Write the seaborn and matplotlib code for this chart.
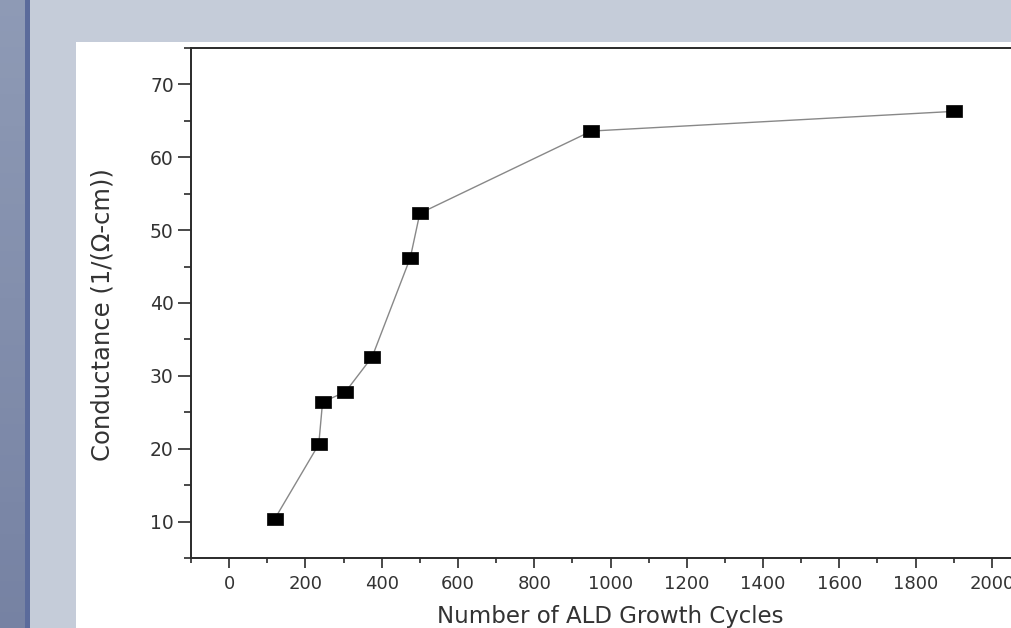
import numpy as np
import pandas as pd
import matplotlib
matplotlib.use("Agg")
import matplotlib.pyplot as plt
from matplotlib.patches import Rectangle
from matplotlib.ticker import MultipleLocator
import seaborn as sns

# ---- data ----
cycles = [120, 235, 245, 305, 375, 475, 500, 950, 1900]
conductance = [10.4, 20.6, 26.4, 27.8, 32.6, 46.2, 52.3, 63.6, 66.3]
x_ticks = [0, 200, 400, 600, 800, 1000, 1200, 1400, 1600, 1800, 2000]
y_ticks = [10, 20, 30, 40, 50, 60, 70]
x_label = "Number of ALD Growth Cycles"
y_label = "Conductance (1/(\u03a9-cm))"

df = pd.DataFrame({"cycles": cycles, "conductance": conductance})

sns.set_theme(style="white")
plt.rcParams["font.family"] = ["DejaVu Sans"]

W, H = 1011, 628
fig = plt.figure(figsize=(W / 100, H / 100), dpi=100, facecolor="#c5ccd9")

def px_rect(x0, y0, x1, y1, color, z=-10):
    r = Rectangle((x0 / W, 1 - y1 / H), (x1 - x0) / W, (y1 - y0) / H,
                  transform=fig.transFigure, facecolor=color, edgecolor="none",
                  zorder=z)
    fig.patches.append(r)

# slide background pieces
n = 40
for i in range(n):
    t = i / (n - 1)
    c1 = np.array([0x8e, 0x9a, 0xb5]) / 255
    c2 = np.array([0x76, 0x82, 0xa3]) / 255
    col = c1 * (1 - t) + c2 * t
    px_rect(0, H * i / n, 25, H * (i + 1) / n + 1, col)
px_rect(25, 0, 30, H, "#5b6b9b")
px_rect(76, 42, W, H, "white", z=-9)

# axes: left spine at x=191, bottom at y=558, top at y=48; right spine off canvas
left, right, top, bottom = 191, 1030, 48, 558
ax = fig.add_axes([left / W, 1 - bottom / H, (right - left) / W, (bottom - top) / H])
ax.set_facecolor("white")

rect_marker = [(-8.5, -6.5), (8.5, -6.5), (8.5, 6.5), (-8.5, 6.5), (-8.5, -6.5)]
sns.lineplot(data=df, x="cycles", y="conductance", ax=ax, estimator=None,
             sort=False, color="#888888", linewidth=1.0, marker=rect_marker,
             markersize=12.2, markerfacecolor="black", markeredgecolor="black",
             markeredgewidth=0.5)

ax.set_xlim(-100, 2100)
ax.set_ylim(5, 75)
ax.set_xticks(x_ticks)
ax.set_yticks(y_ticks)
ax.xaxis.set_minor_locator(MultipleLocator(100))
ax.yaxis.set_minor_locator(MultipleLocator(5))

txt = "#333333"
for s in ["left", "bottom", "top", "right"]:
    ax.spines[s].set_visible(True)
    ax.spines[s].set_color("#2a2a2a")
    ax.spines[s].set_linewidth(1.4)

ax.tick_params(axis="x", which="major", direction="out", length=7.2, width=1.2,
               color="#2a2a2a", labelsize=13, labelcolor=txt, pad=5,
               bottom=True, top=False)
ax.tick_params(axis="x", which="minor", direction="out", length=3.6, width=1.2,
               color="#2a2a2a", bottom=True, top=False)
ax.tick_params(axis="y", which="major", direction="out", length=9.4, width=1.2,
               color="#2a2a2a", labelsize=13.5, labelcolor=txt, pad=3,
               left=True, right=False)
ax.tick_params(axis="y", which="minor", direction="out", length=5, width=1.2,
               color="#2a2a2a", left=True, right=False)

ax.set_xlabel(x_label, fontsize=16.5, color=txt)
ax.set_ylabel(y_label, fontsize=17.5, color=txt)
ax.xaxis.label.set_va("center")
ax.yaxis.label.set_va("center")
ax.xaxis.set_label_coords(0.5, (bottom - 616) / (bottom - top))
ax.yaxis.set_label_coords((103 - left) / (right - left), 0.5 - (315 - (top + bottom) / 2) / (bottom - top))

fig.savefig("out.png", dpi=100, facecolor=fig.get_facecolor())
